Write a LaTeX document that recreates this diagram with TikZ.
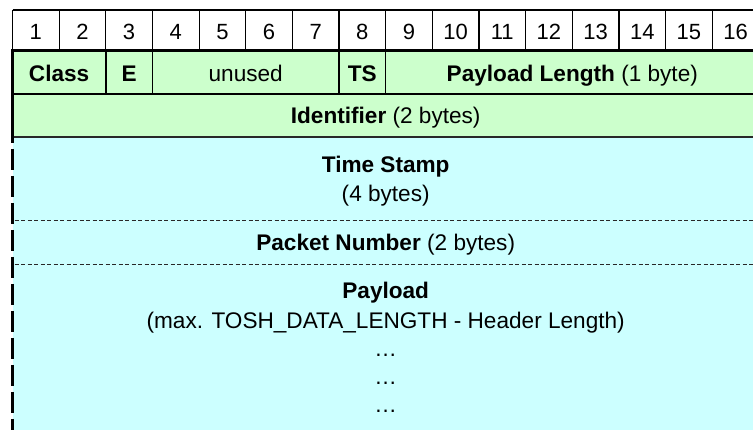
\documentclass[tikz,border=0pt]{standalone}
\usepackage{fontspec}
\setmainfont{Liberation Sans}
\definecolor{hdrgreen}{RGB}{204,255,204}
\definecolor{bodycyan}{RGB}{204,255,255}
\definecolor{rule}{RGB}{40,40,40}
\begin{document}
\begin{tikzpicture}[x=1pt,y=-1pt,
  numtxt/.style={inner sep=0pt,anchor=base,font=\fontsize{22}{26}\selectfont},
  fldtxt/.style={inner sep=0pt,anchor=base,font=\fontsize{22.6}{27}\selectfont},
  thinrule/.style={line width=1.2pt,black},
  seprule/.style={line width=1pt,rule,dash pattern=on 4pt off 2.5pt},
]
\clip (0,0) rectangle (753,430);
\fill[white] (0,0) rectangle (753,430);
% column boundaries x_i = 12.5 + 46.65 (i-1)
\def\cx#1{12.5+46.65*(#1-1)}
\def\mid{385.7}
% backgrounds
\fill[hdrgreen] (12.5,51) rectangle (760,137);
\fill[bodycyan] (12.5,137) rectangle (760,440);
% bit-number row
\draw[thinrule] (12.5,10) -- (760,10);
\foreach \i in {1,...,17} \draw[thinrule] ({\cx{\i}},10) -- ({\cx{\i}},51);
\foreach \i in {1,...,16}
  \node[numtxt] (n\i) at ({\cx{\i}+23.3},39.5) {\i};
% header word 1
\draw[line width=3pt] (11,51) -- (760,51);
\foreach \i in {3,4,8,9} \draw[line width=1.5pt] ({\cx{\i}},51) -- ({\cx{\i}},94);
\draw[line width=2pt] (12.5,94) -- (760,94);
\draw[line width=1.8pt,rule] (12.5,137) -- (760,137);
% left edge: solid along the header, dashed along the body
\draw[line width=3.5pt] (12.5,50) -- (12.5,137);
\draw[line width=3.5pt,dash pattern=on 21pt off 6pt,dash phase=15pt] (12.5,137) -- (12.5,432);
% separators inside the body
\draw[seprule] (14.5,221) -- (760,221);
\draw[seprule] (14.5,265) -- (760,265);
% field labels
\node[fldtxt] (cls) at ({(\cx{1}+\cx{3})/2},81.7) {\textbf{Class}};
\node[fldtxt] (ebit) at ({(\cx{3}+\cx{4})/2},81.7) {\textbf{E}};
\node[fldtxt] (unused) at ({(\cx{4}+\cx{8})/2},81.7) {unused};
\node[fldtxt] (ts) at ({(\cx{8}+\cx{9})/2},81.7) {\textbf{TS}};
\node[fldtxt] (plen) at ({(\cx{9}+\cx{17})/2},81.7) {\textbf{Payload Length} (1 byte)};
\node[fldtxt] (ident) at (\mid,123.5) {\textbf{Identifier} (2 bytes)};
\node[fldtxt] (tstamp) at (\mid,173) {\textbf{Time Stamp}};
\node[fldtxt] (tsize) at (\mid,201.5) {(4 bytes)};
\node[fldtxt] (pnum) at (\mid,250.5) {\textbf{Packet Number} (2 bytes)};
\node[fldtxt] (pay) at (\mid,299) {\textbf{Payload}};
\node[fldtxt] (psize) at (\mid,329) {(max. TOSH\_DATA\_LENGTH - Header Length)};
\node[fldtxt] (dots1) at (\mid,356.5) {…};
\node[fldtxt] (dots2) at (\mid,384.5) {…};
\node[fldtxt] (dots3) at (\mid,412.5) {…};
\end{tikzpicture}
\end{document}
